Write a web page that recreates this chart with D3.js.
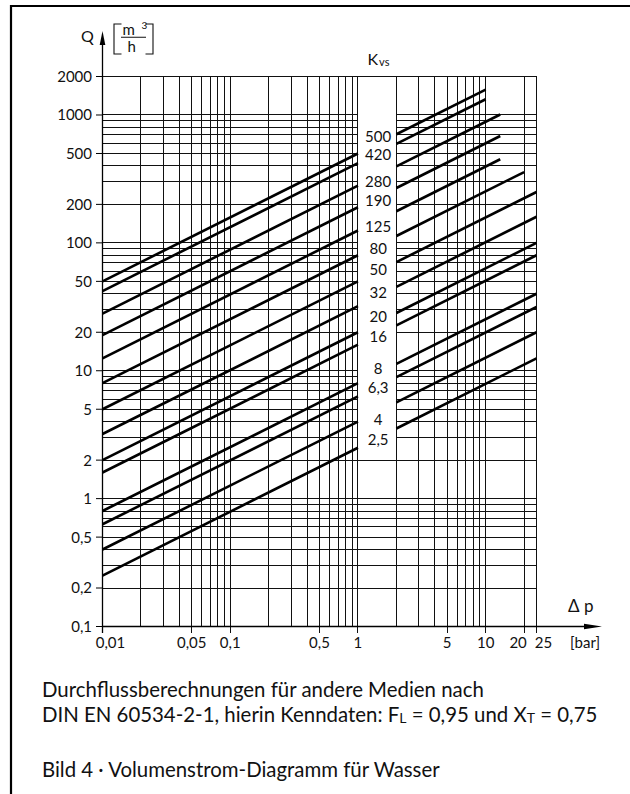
<!DOCTYPE html>
<html lang="de">
<head>
<meta charset="UTF-8">
<title>Volumenstrom-Diagramm für Wasser</title>
<script src="https://d3js.org/d3.v7.min.js"></script>
<style>
  body { margin: 0; background: #fff; }
  svg { display: block; font-family: Lato, "Noto Sans", sans-serif; }
  .grid line { stroke: #111; stroke-width: 1; shape-rendering: crispEdges; }
  .kvs path { fill: none; stroke: #000; stroke-width: 2.6; }
  .tick-label { font-size: 15px; fill: #111; }
</style>
</head>
<body>
<script>
  // Kvs values of the valve, one line each (Q = Kvs * sqrt(dp))
  var kvs = [500, 420, 280, 190, 125, 80, 50, 32, 20, 16, 8, 6.3, 4, 2.5];
  var kvsLabels = ["500", "420", "280", "190", "125", "80", "50", "32", "20", "16", "8", "6,3", "4", "2,5"];
  // where the label sits in the gap between 1 and 2 bar (in m3/h)
  var labelQ = [678, 488, 301, 214, 134, 91, 61.5, 40.9, 26.6, 18.4, 10.4, 7.4, 4.14, 2.89];
  // left part goes 0.01..1 bar, right part starts at 2 bar and ends here
  var leftSeg = [0.01, 1];
  var rightStart = 2;
  var rightEnd = [10, 10, 13, 13, 13, 20, 25, 25, 25, 25, 25, 25, 25, 25];

  // axis ticks
  var xTicks = [0.01, 0.05, 0.1, 0.5, 1, 5, 10, 20, 25];
  var xTickLabels = ["0,01", "0,05", "0,1", "0,5", "1", "5", "10", "20", "25"];
  var yTicks = [2000, 1000, 500, 200, 100, 50, 20, 10, 5, 2, 1, 0.5, 0.2, 0.1];
  var yTickLabels = ["2000", "1000", "500", "200", "100", "50", "20", "10", "5", "2", "1", "0,5", "0,2", "0,1"];

  // grid lines
  var xGrid = [0.01, 0.02, 0.03, 0.04, 0.05, 0.06, 0.07, 0.08, 0.09,
               0.1, 0.2, 0.3, 0.4, 0.5, 0.6, 0.7, 0.8, 0.9,
               1, 2, 3, 4, 5, 6, 7, 8, 9, 10, 20, 25];
  var yGrid = [0.1, 0.2, 0.3, 0.4, 0.5, 0.6, 0.7, 0.8, 0.9,
               1, 2, 3, 4, 5, 6, 7, 8, 9,
               10, 20, 30, 40, 50, 60, 70, 80, 90,
               100, 200, 300, 400, 500, 600, 700, 800, 900, 1000, 2000];

  var W = 630, H = 794;
  var svg = d3.select("body").append("svg")
      .attr("width", W)
      .attr("height", H);

  var x = d3.scaleLog().domain([0.01, 25]).range([102.5, 536.5]);
  var y = d3.scaleLog().domain([0.1, 2000]).range([626.5, 76.5]);

  // outer frame (open to the right and bottom)
  svg.append("path")
      .attr("d", "M11,794 L11,6 L630,6")
      .attr("fill", "none")
      .attr("stroke", "#000")
      .attr("stroke-width", 2.2);

  var grid = svg.append("g").attr("class", "grid");

  // vertical grid lines, the labelled ones poke below the axis
  grid.selectAll(".v").data(xGrid).enter().append("line")
      .attr("x1", d => x(d)).attr("x2", d => x(d))
      .attr("y1", y(2000))
      .attr("y2", d => xTicks.indexOf(d) >= 0 ? y(0.1) + 6.5 : y(0.1));

  // horizontal grid lines, broken between 1 and 2 bar where the labels go
  var gapTop = 2000, gapBottom = 2;
  grid.selectAll(".h").data(yGrid.filter(q => q > 0.1)).enter().append("g")
    .each(function(q) {
      var g = d3.select(this);
      if (q > gapBottom && q < gapTop) {
        g.append("line").attr("x1", x(0.01)).attr("x2", x(1)).attr("y1", y(q)).attr("y2", y(q));
        g.append("line").attr("x1", x(2)).attr("x2", x(25)).attr("y1", y(q)).attr("y2", y(q));
      } else {
        g.append("line").attr("x1", x(0.01)).attr("x2", x(25)).attr("y1", y(q)).attr("y2", y(q));
      }
    });

  // axes with arrows
  var axisX0 = x(0.01);
  svg.append("line").attr("x1", axisX0).attr("x2", axisX0)
      .attr("y1", y(0.1) + 6.5).attr("y2", 40)
      .attr("stroke", "#000").attr("stroke-width", 1.3);
  svg.append("path")
      .attr("d", "M" + axisX0 + ",31 L" + (axisX0 - 2.8) + ",45 L" + (axisX0 + 2.8) + ",45 Z")
      .attr("fill", "#000");
  svg.append("line").attr("x1", axisX0).attr("x2", 590)
      .attr("y1", y(0.1)).attr("y2", y(0.1))
      .attr("stroke", "#000").attr("stroke-width", 1.3);
  svg.append("path")
      .attr("d", "M602," + y(0.1) + " L584," + (y(0.1) - 2.8) + " L584," + (y(0.1) + 2.8) + " Z")
      .attr("fill", "#000");

  // y ticks and labels
  svg.selectAll(".ytick").data(yTicks).enter().append("line")
      .attr("x1", axisX0 - 6.5).attr("x2", axisX0)
      .attr("y1", d => y(d)).attr("y2", d => y(d))
      .attr("stroke", "#000").attr("stroke-width", 1);
  svg.selectAll(".ylab").data(yTicks).enter().append("text")
      .attr("class", "tick-label")
      .attr("x", 92)
      .attr("y", d => y(d))
      .attr("dy", "0.36em")
      .attr("text-anchor", "end")
      .text((d, i) => yTickLabels[i]);

  // x tick labels, a few nudged apart like in the print
  var xNudge = {0.01: 8, 20: -6, 25: 7};
  svg.selectAll(".xlab").data(xTicks).enter().append("text")
      .attr("class", "tick-label")
      .attr("x", d => x(d) + (xNudge[d] || 0))
      .attr("y", 648)
      .attr("text-anchor", "middle")
      .text((d, i) => xTickLabels[i]);

  // Kvs lines, two pieces each
  var line = d3.line().x(d => x(d[0])).y(d => y(d[1]));
  var kg = svg.append("g").attr("class", "kvs");
  kvs.forEach(function(k, i) {
    var left = leftSeg.map(p => [p, k * Math.sqrt(p)]);
    var right = [rightStart, rightEnd[i]].map(p => [p, k * Math.sqrt(p)]);
    kg.append("path").attr("d", line(left));
    kg.append("path").attr("d", line(right));
  });

  // Kvs labels in the gap
  var labelX = (x(1) + x(2)) / 2 + 1;
  svg.selectAll(".klab").data(kvs).enter().append("text")
      .attr("class", "tick-label")
      .attr("x", labelX)
      .attr("y", (d, i) => y(labelQ[i]))
      .attr("dy", "0.36em")
      .attr("text-anchor", "middle")
      .text((d, i) => kvsLabels[i]);

  // Kvs title
  var kt = svg.append("text").attr("x", 367.5).attr("y", 65).attr("font-size", 16).attr("fill", "#111");
  kt.append("tspan").text("K");
  kt.append("tspan").attr("dx", 1).attr("dy", 1).attr("font-size", 11).text("vs");

  // Q with unit [m3/h]
  svg.append("text").attr("x", 81).attr("y", 42).attr("font-size", 16).attr("fill", "#111").text("Q");
  svg.append("path")
      .attr("d", "M121.5,24 L114,24 L114,54 L121.5,54 M145.5,24 L153,24 L153,54 L145.5,54 M121,37.3 L146,37.3")
      .attr("fill", "none").attr("stroke", "#111").attr("stroke-width", 1.1);
  svg.append("text").attr("x", 122.5).attr("y", 35).attr("font-size", 15).attr("fill", "#111").text("m");
  svg.append("text").attr("x", 141.5).attr("y", 29).attr("font-size", 10).attr("fill", "#111").text("3");
  svg.append("text").attr("x", 127.5).attr("y", 52).attr("font-size", 15).attr("fill", "#111").text("h");

  // x axis title
  svg.append("text").attr("x", 568).attr("y", 612).attr("font-size", 17).attr("fill", "#111").text("Δ p");
  svg.append("text").attr("x", 570).attr("y", 648).attr("font-size", 15).attr("fill", "#111").text("[bar]");

  // caption text
  var cap = svg.append("g").attr("font-size", 20.4).attr("fill", "#111");
  cap.append("text").attr("x", 42).attr("y", 696.5)
      .text("Durchflussberechnungen für andere Medien nach");
  var t2 = cap.append("text").attr("x", 42).attr("y", 721.5);
  t2.append("tspan").text("DIN EN 60534-2-1, hierin Kenndaten: F");
  t2.append("tspan").attr("font-size", 14).attr("dy", 1.5).text("L");
  t2.append("tspan").attr("dy", -1.5).text(" = 0,95 und X");
  t2.append("tspan").attr("font-size", 14).attr("dy", 1.5).text("T");
  t2.append("tspan").attr("dy", -1.5).text(" = 0,75");
  cap.append("text").attr("x", 42).attr("y", 776.5)
      .text("Bild 4 · Volumenstrom-Diagramm für Wasser");
</script>
</body>
</html>
